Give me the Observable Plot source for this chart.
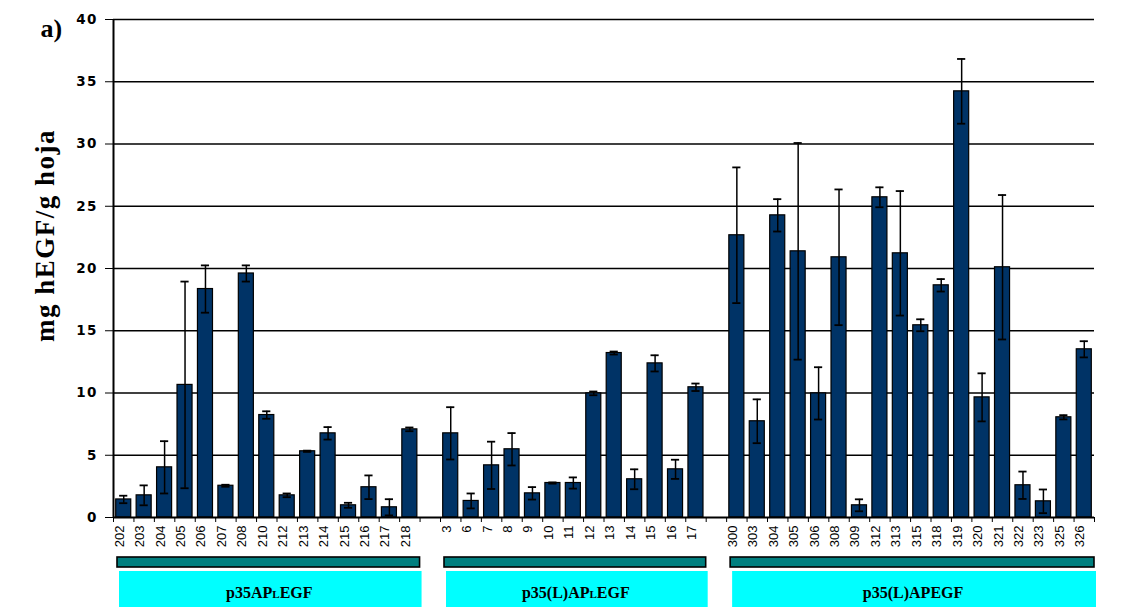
<!DOCTYPE html>
<html>
<head>
<meta charset="utf-8">
<script src="https://cdn.jsdelivr.net/npm/d3@7"></script>
<script src="https://cdn.jsdelivr.net/npm/@observablehq/plot@0.6"></script>
<style>
  body { margin: 0; background: #fff; }
  #chart svg { display: block; }
</style>
</head>
<body>
<div id="chart"></div>
<script>
// hEGF yield per line (µg hEGF / g leaf), mean ± error, three constructs
const lines1 = ["202","203","204","205","206","207","208","210","212","213","214","215","216","217","218"];
const values1 = [1.45, 1.78, 4.03, 10.65, 18.35, 2.55, 19.6, 8.23, 1.78, 5.32, 6.76, 0.98, 2.43, 0.82, 7.08];
const errors1 = [0.3, 0.8, 2.1, 8.3, 1.9, 0.08, 0.65, 0.3, 0.15, 0.05, 0.5, 0.2, 0.95, 0.65, 0.15];

const lines2 = ["3","6","7","8","9","10","11","12","13","14","15","16","17"];
const values2 = [6.76, 1.33, 4.19, 5.48, 1.94, 2.77, 2.77, 9.97, 13.21, 3.07, 12.38, 3.87, 10.46];
const errors2 = [2.1, 0.6, 1.9, 1.3, 0.5, 0.05, 0.45, 0.15, 0.12, 0.8, 0.65, 0.77, 0.3];

const lines3 = ["300","303","304","305","306","308","309","312","313","315","318","319","320","321","322","323","325","326"];
const values3 = [22.67, 7.73, 24.27, 21.38, 9.97, 20.9, 0.98, 25.72, 21.22, 15.44, 18.65, 34.23, 9.65, 20.1, 2.59, 1.30, 8.05, 13.51];
const errors3 = [5.45, 1.76, 1.3, 8.7, 2.1, 5.45, 0.48, 0.8, 5.0, 0.48, 0.5, 2.6, 1.93, 5.8, 1.1, 0.95, 0.17, 0.65];

// construct names; the middle part of each is set in small capitals
const groupLabels = [["p35AP", "L", "EGF"], ["p35(L)AP", "L", "EGF"], ["p35(L)APEGF", "", ""]];

const yTicks = [0, 5, 10, 15, 20, 25, 30, 35, 40];
const yTitle = "mg hEGF/g hoja";
const panelTag = "a)";

// lay the lines out in slots, leaving one empty slot between constructs
const rows = [];
const groups = [];
let slot = 0;
[[lines1, values1, errors1], [lines2, values2, errors2], [lines3, values3, errors3]].forEach(([names, vals, errs], g) => {
  if (g > 0) slot += 1;
  const first = slot;
  names.forEach((name, i) => rows.push({name, value: vals[i], err: errs[i], slot: slot++}));
  groups.push({label: groupLabels[g], first, last: slot - 1});
});
const nSlots = slot;

const chart = Plot.plot({
  width: 1138,
  height: 607,
  marginLeft: 113,
  marginRight: 44,
  marginTop: 19,
  marginBottom: 90,
  style: {fontFamily: "DejaVu Sans", fontSize: "13.5px", fontWeight: "bold", background: "#fff", overflow: "visible"},
  x: {domain: [0, nSlots], ticks: d3.range(nSlots + 1), tickFormat: () => "", tickSize: 5, label: null},
  y: {domain: [0, 40], ticks: yTicks, tickSize: 8, tickPadding: 8, label: null},
  marks: [
    Plot.ruleY(yTicks.slice(1), {stroke: "#000", strokeWidth: 1.3}),
    Plot.rectY(rows, {
      x1: "slot", x2: d => d.slot + 1, y: "value",
      fill: "#003366", stroke: "#000", strokeWidth: 1.2,
      insetLeft: 2.7, insetRight: 2.7
    }),
    Plot.ruleX(rows, {x: d => d.slot + 0.5, y1: d => d.value - d.err, y2: d => d.value + d.err, stroke: "#000", strokeWidth: 1.5}),
    Plot.ruleY(rows, {y: d => d.value + d.err, x1: d => d.slot + 0.3, x2: d => d.slot + 0.7, stroke: "#000", strokeWidth: 1.8}),
    Plot.ruleY(rows, {y: d => d.value - d.err, x1: d => d.slot + 0.3, x2: d => d.slot + 0.7, stroke: "#000", strokeWidth: 1.8}),
    Plot.ruleY([0], {stroke: "#000", strokeWidth: 1.8}),
    Plot.ruleX([0], {stroke: "#000", strokeWidth: 2}),
    Plot.text(rows, {
      x: d => d.slot + 0.5, frameAnchor: "bottom", text: "name",
      rotate: -90, textAnchor: "end", dy: 8,
      fontFamily: "Liberation Sans", fontSize: 13, fontWeight: "normal", fill: "#000"
    }),
    Plot.text([yTitle], {
      frameAnchor: "left", text: d => d, rotate: -90, textAnchor: "middle", dx: -68, dy: -33,
      fontFamily: "Liberation Serif", fontSize: 27, fontWeight: "bold", fill: "#000",
      className: "y-title"
    }),
    Plot.text([panelTag], {
      frameAnchor: "top-left", text: d => d, textAnchor: "start", lineAnchor: "middle", dx: -73, dy: 9,
      fontFamily: "Liberation Serif", fontSize: 26, fontWeight: "bold", fill: "#000"
    })
  ]
});

const svg = d3.select(chart.tagName.toLowerCase() === "svg" ? chart : chart.querySelector("svg"));

// wider spacing for the y tick labels and the axis title
svg.selectAll("g[aria-label^='y-axis']").attr("letter-spacing", "1.2px");
svg.selectAll(".y-title").attr("letter-spacing", "1.5px");

// construct bands under the axis, placed with the chart's own x scale
const sx = chart.scale("x");
const legend = svg.append("g").attr("class", "constructs");
groups.forEach(g => {
  const x1 = sx.apply(g.first), x2 = sx.apply(g.last + 1);
  legend.append("rect")
    .attr("x", x1 + 6).attr("y", 571).attr("width", x2 - x1 - 4).attr("height", 40)
    .attr("fill", "#00ffff");
  legend.append("rect")
    .attr("x", x1 + 4).attr("y", 557).attr("width", x2 - x1 - 4).attr("height", 10)
    .attr("fill", "#007f7f").attr("stroke", "#000").attr("stroke-width", 1.6);
  const t = legend.append("text")
    .attr("x", (x1 + x2) / 2 + 3).attr("y", 598)
    .attr("text-anchor", "middle")
    .attr("font-family", "Liberation Serif").attr("font-weight", "bold")
    .attr("font-size", 16).attr("fill", "#000");
  t.append("tspan").text(g.label[0]);
  if (g.label[1]) t.append("tspan").attr("font-size", 11).text(g.label[1]);
  if (g.label[2]) t.append("tspan").text(g.label[2]);
});

document.getElementById("chart").appendChild(chart);
</script>
</body>
</html>
